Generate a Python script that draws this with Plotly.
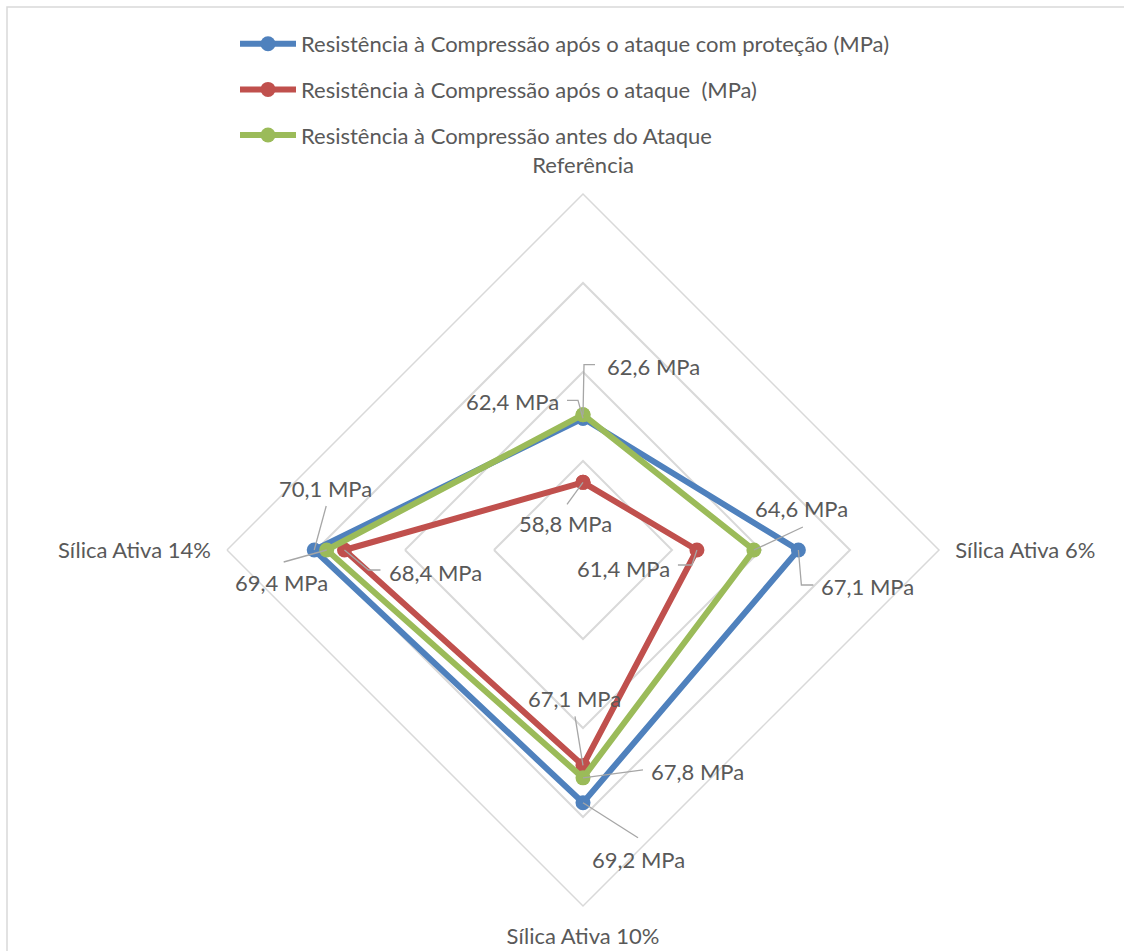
import plotly.graph_objects as go

# Categories (clockwise from the top of the radar)
categories = ["Referência", "Sílica Ativa 6%", "Sílica Ativa 10%", "Sílica Ativa 14%"]

# Compressive strength, MPa
com_protecao = [62.4, 67.1, 69.2, 70.1]
apos_ataque = [58.8, 61.4, 67.1, 68.4]
antes_ataque = [62.6, 64.6, 67.8, 69.4]

series_names = [
    "Resistência à Compressão após o ataque com proteção (MPa)",
    "Resistência à Compressão após o ataque  (MPa)",
    "Resistência à Compressão antes do Ataque",
]
series_values = [com_protecao, apos_ataque, antes_ataque]
series_colors = ["#4F81BD", "#C0504D", "#9BBB59"]

radial_range = [55, 75]
radial_ticks = [60, 65, 70, 75]

FONT = "Lato"
TEXT_COLOR = "#595959"
GRID_COLOR = "#D9D9D9"
LEADER_COLOR = "#A6A6A6"

W, H = 1124, 951
# polar area: centre (583, 550) px, radius 356 px
CX, CY, RAD = 583, 550, 356
dom_x = [(CX - RAD) / W, (CX + RAD) / W]
dom_y = [(H - CY - RAD) / H, (H - CY + RAD) / H]

# data-label placement: (label offset px, leader path px), screen y downwards
label_layout = [
    [((-71, -17), [(0, 0), (-5, -18), (-16, -18)]),
     ((69, 36), [(0, 0), (3, 35), (15, 35)]),
     ((55, 57), [(0, 0), (55, 35)]),
     ((11, -62), [(0, 0), (12, -44)])],
    [((-18, 41), [(0, 0), (-16, 22)]),
     ((-73, 18), [(0, 0), (-5, 15), (-19, 15)]),
     ((-9, -67), [(0, 0), (-8, -49)]),
     ((91, 22), [(0, 0), (24, 20), (36, 20)])],
    [((70, -48), [(0, 0), (1, -50), (12, -50)]),
     ((48, -42), [(0, 0), (49, -23)]),
     ((114, -6), [(0, 0), (60, -8)]),
     ((-45, 32), [(0, 0), (-43, 12)])],
]

fig = go.Figure()

for i, (name, vals, col) in enumerate(zip(series_names, series_values, series_colors)):
    fig.add_trace(go.Scatterpolar(
        r=vals + vals[:1],
        theta=categories + categories[:1],
        mode="lines+markers",
        name=name,
        legendgroup=f"g{i}",
        line=dict(color=col, width=6),
        marker=dict(color=col, size=15),
        hoverinfo="skip",
    ))


def to_paper(k, v):
    """Paper position of value v on spoke k (0 = top, clockwise)."""
    frac = (v - radial_range[0]) / (radial_range[1] - radial_range[0])
    cx = (dom_x[0] + dom_x[1]) / 2
    cy = (dom_y[0] + dom_y[1]) / 2
    rx = (dom_x[1] - dom_x[0]) / 2
    ry = (dom_y[1] - dom_y[0]) / 2
    dirs = [(0, 1), (1, 0), (0, -1), (-1, 0)]
    dx, dy = dirs[k]
    return cx + frac * rx * dx, cy + frac * ry * dy


annotations = []
shapes = []
for s, vals in enumerate(series_values):
    for k, v in enumerate(vals):
        px, py = to_paper(k, v)
        (ox, oy), path_pts = label_layout[s][k]
        annotations.append(dict(
            x=px, y=py, xref="paper", yref="paper",
            xshift=ox, yshift=-oy,
            text=f"{v:.1f}".replace(".", ",") + " MPa",
            showarrow=False, xanchor="center", yanchor="middle",
            font=dict(family=FONT, size=22, color=TEXT_COLOR),
        ))
        path = "M" + " L".join(f"{x},{-y}" for x, y in path_pts)
        shapes.append(dict(
            type="path", xref="paper", yref="paper",
            xsizemode="pixel", ysizemode="pixel",
            xanchor=px, yanchor=py, path=path,
            line=dict(color=LEADER_COLOR, width=1.3),
            layer="above",
        ))

# chart border
shapes.append(dict(
    type="rect", xref="paper", yref="paper",
    x0=7 / W, x1=1.02, y0=-0.02, y1=1 - 7 / H,
    line=dict(color=GRID_COLOR, width=1.5), layer="below",
))

fig.update_layout(
    width=W, height=H,
    margin=dict(l=0, r=0, t=0, b=0),
    paper_bgcolor="white",
    plot_bgcolor="white",
    font=dict(family=FONT, color=TEXT_COLOR, size=22),
    showlegend=True,
    legend=dict(
        x=235 / W, y=1 - 23 / H, xanchor="left", yanchor="top",
        font=dict(family=FONT, size=22, color=TEXT_COLOR),
        tracegroupgap=14, itemwidth=56,
        bgcolor="rgba(0,0,0,0)",
    ),
    polar=dict(
        domain=dict(x=dom_x, y=dom_y),
        bgcolor="white",
        gridshape="linear",
        radialaxis=dict(
            range=radial_range, tickvals=radial_ticks,
            showticklabels=False, showline=False, ticks="",
            gridcolor=GRID_COLOR, gridwidth=1.5,
        ),
        angularaxis=dict(
            type="category", rotation=90, direction="clockwise",
            showgrid=False, showline=True, linecolor=GRID_COLOR, linewidth=1.5,
            ticks="outside", ticklen=11, tickcolor="rgba(0,0,0,0)",
            tickfont=dict(family=FONT, size=22, color=TEXT_COLOR),
        ),
    ),
    annotations=annotations,
    shapes=shapes,
)

fig.write_html("out.html")
